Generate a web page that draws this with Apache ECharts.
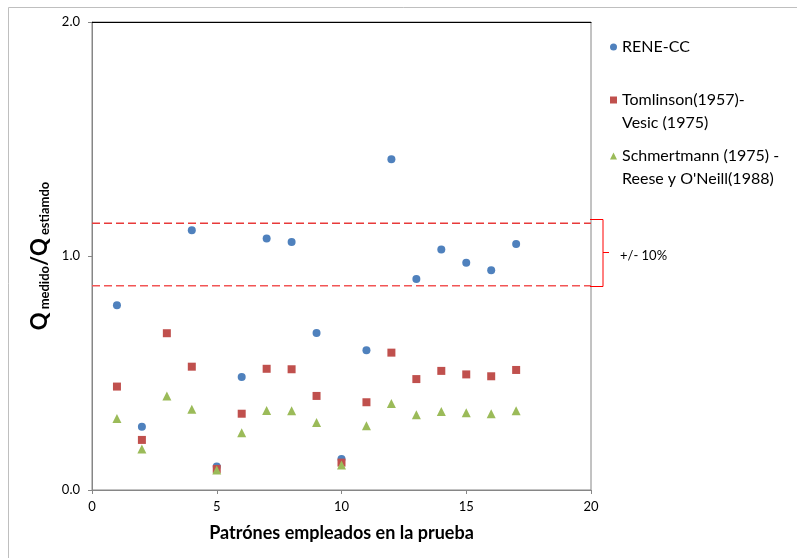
<!DOCTYPE html>
<html>
<head>
<meta charset="utf-8">
<script src="https://cdn.jsdelivr.net/npm/echarts@6/dist/echarts.min.js"></script>
<style>
html,body{margin:0;padding:0;background:#fff;}
#chart{width:797px;height:558px;}
</style>
</head>
<body>
<div id="chart"></div>
<script>
// Pattern numbers (x)
var patterns = [1,2,3,4,5,6,7,8,9,10,11,12,13,14,15,16,17];
// Series values (Q medido / Q estimado)
var reneCC      = [0.79,0.27,null,1.11,0.10,0.483,1.075,1.06,0.671,0.133,0.597,1.413,0.902,1.028,0.971,0.939,1.051];
var tomlinson   = [0.442,0.214,0.670,0.527,0.090,0.326,0.518,0.516,0.402,0.117,0.375,0.587,0.474,0.509,0.494,0.486,0.513];
var schmertmann = [0.306,0.175,0.402,0.345,0.085,0.245,0.340,0.339,0.288,0.107,0.275,0.370,0.322,0.335,0.330,0.326,0.339];
// Band limits (+/- 10%)
var bandUpper = 1.14;
var bandLower = 0.873;
var xRange = [0, 20];
var seriesNames = ['RENE-CC', 'Tomlinson(1957)-', 'Schmertmann (1975) -'];
var secondLines = ['', 'Vesic (1975)', "Reese y O'Neill(1988)"];
var bandLabel = '+/- 10%';

function pairs(vals){
  var out = [];
  for (var i=0;i<patterns.length;i++){ if (vals[i] !== null) out.push([patterns[i], vals[i]]); }
  return out;
}

var FONT = 'Lato';
var chart = echarts.init(document.getElementById('chart'), null, {renderer:'canvas'});

var legendText = {fontFamily:FONT, fontSize:16, color:'#000', lineHeight:18};
var option = {
  backgroundColor:'#fff',
  animation:false,
  grid:{left:92, right:206, top:22, bottom:68, show:true, borderColor:'#868686', borderWidth:1},
  legend:[
    {data:[seriesNames[0]], left:610, top:38, padding:0, orient:'vertical', itemWidth:7, itemHeight:7, icon:'circle', textStyle:legendText},
    {data:[seriesNames[1]], left:610, top:91, padding:0, orient:'vertical', itemWidth:7, itemHeight:7, icon:'rect', textStyle:legendText},
    {data:[seriesNames[2]], left:610, top:147, padding:0, orient:'vertical', itemWidth:7, itemHeight:7, icon:'triangle', textStyle:legendText}
  ],
  xAxis:[{
    type:'value', min:xRange[0], max:xRange[1], interval:5,
    name:'Patrónes empleados en la prueba', nameLocation:'middle', nameGap:34,
    nameTextStyle:{fontFamily:FONT, fontSize:18, fontWeight:'bold', color:'#000'},
    axisLine:{show:true, onZero:false, lineStyle:{color:'#868686', width:1}},
    axisTick:{show:true, length:4, lineStyle:{color:'#868686'}},
    axisLabel:{fontFamily:FONT, fontSize:13, color:'#000', margin:10},
    splitLine:{show:false}
  },{
    type:'value', position:'top', min:xRange[0], max:xRange[1],
    axisLine:{show:true, onZero:false, lineStyle:{color:'#000', width:1}},
    axisTick:{show:false}, axisLabel:{show:false}, splitLine:{show:false}
  }],
  yAxis:{
    type:'value', min:0, max:2, interval:1,
    name:'{q|Q}{s| medido}{q|/Q}{s| estiamdo}', nameLocation:'middle', nameGap:31, nameRotate:90,
    nameTextStyle:{
      rich:{
        q:{fontFamily:FONT, fontSize:22, fontWeight:'bold', color:'#000', verticalAlign:'bottom', lineHeight:26},
        s:{fontFamily:FONT, fontSize:13, fontWeight:'bold', color:'#000', verticalAlign:'bottom', lineHeight:20}
      }
    },
    axisLine:{show:true, onZero:false, lineStyle:{color:'#868686', width:1}},
    axisTick:{show:true, length:4, lineStyle:{color:'#868686'}},
    axisLabel:{fontFamily:FONT, fontSize:13, color:'#000', margin:12, formatter:function(v){return v.toFixed(1);}},
    splitLine:{show:false}
  },
  series:[
    {name:'band-upper', type:'line', data:[[xRange[0],bandUpper],[xRange[1],bandUpper]], symbol:'none',
     lineStyle:{color:'#E83A3A', width:1.5, type:[8,4]}, silent:true, z:1},
    {name:'band-lower', type:'line', data:[[xRange[0],bandLower],[xRange[1],bandLower]], symbol:'none',
     lineStyle:{color:'#F25555', width:1.5, type:[8,4]}, silent:true, z:1},
    {name:seriesNames[0], type:'scatter', data:pairs(reneCC), symbol:'circle', symbolSize:8,
     itemStyle:{color:'#4F81BD', opacity:1}, z:3},
    {name:seriesNames[1], type:'scatter', data:pairs(tomlinson), symbol:'rect', symbolSize:8,
     itemStyle:{color:'#C0504D', opacity:1}, z:4},
    {name:seriesNames[2], type:'scatter', data:pairs(schmertmann), symbol:'triangle', symbolSize:9,
     itemStyle:{color:'#9BBB59', opacity:1}, z:5}
  ]
};
chart.setOption(option);

// Bracket and extra text positioned through the chart's scales
var pu = chart.convertToPixel({xAxisIndex:0, yAxisIndex:0}, [xRange[1], bandUpper]);
var pl = chart.convertToPixel({xAxisIndex:0, yAxisIndex:0}, [xRange[1], bandLower]);
var bx = pu[0] + 12, yTop = Math.round(pu[1]) - 3.5, yBot = Math.round(pl[1]) + 0.5, yMid = Math.round((yTop + yBot)/2) - 0.5;
chart.setOption({
  graphic:[
    {type:'rect', shape:{x:8.5, y:7.5, width:1000, height:1000}, style:{fill:null, stroke:'#BFBFBF', lineWidth:1}, silent:true, z:-10},
    {type:'polyline', shape:{points:[[pu[0]-1,yTop],[bx,yTop],[bx,yBot],[pu[0]-1,yBot]]}, style:{stroke:'#FF0000', fill:null, lineWidth:1}, z:10},
    {type:'line', shape:{x1:bx, y1:yMid, x2:bx+6, y2:yMid}, style:{stroke:'#FF0000', lineWidth:1}, z:10},
    {type:'text', x:620, y:yMid+3, style:{text:bandLabel, font:'13px '+FONT, fill:'#000', textVerticalAlign:'middle', textAlign:'left'}, z:10},
    {type:'text', x:622, y:123, style:{text:secondLines[1], font:'16px '+FONT, fill:'#000', textVerticalAlign:'middle', textAlign:'left'}, z:10},
    {type:'text', x:622, y:179, style:{text:secondLines[2], font:'16px '+FONT, fill:'#000', textVerticalAlign:'middle', textAlign:'left'}, z:10}
  ]
});
</script>
</body>
</html>
